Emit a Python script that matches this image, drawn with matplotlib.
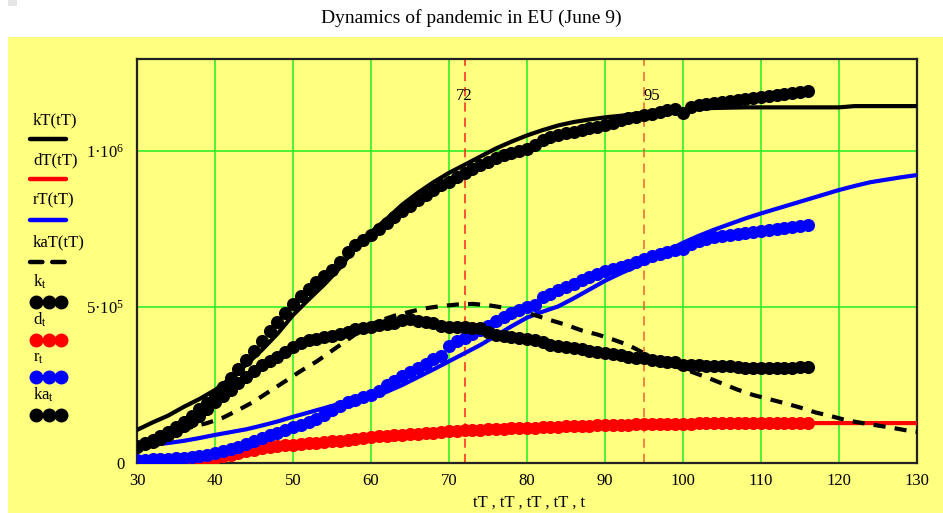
import matplotlib
matplotlib.use("Agg")
import matplotlib.pyplot as plt
from matplotlib.patches import Rectangle
from matplotlib.lines import Line2D

plt.rcParams["font.family"] = ["Liberation Serif", "DejaVu Serif"]
plt.rcParams["mathtext.fontset"] = "custom"
plt.rcParams["mathtext.rm"] = "Liberation Serif"
plt.rcParams["mathtext.it"] = "Liberation Serif:italic"

# ---- observed data (thousands of people), days 30..116 ----
days = list(range(30, 117))

k_obs = [55, 65, 75, 86, 100, 115, 132, 152, 172, 193,
         215, 243, 272, 302, 331, 360, 392, 422, 452, 482,
         510, 535, 558, 580, 600, 620, 645, 676, 700, 715,
         731, 750, 768, 790, 808, 824, 843, 860, 875, 890,
         902, 916, 928, 942, 955, 966, 978, 987, 994, 1000,
         1006, 1018, 1035, 1045, 1052, 1058, 1062, 1068, 1073, 1078,
         1083, 1090, 1098, 1105, 1110, 1115, 1120, 1126, 1130, 1134,
         1121, 1140, 1146, 1150, 1154, 1158, 1161, 1164, 1167, 1170,
         1173, 1176, 1179, 1183, 1186, 1190, 1193]

d_obs = [2, 3, 3, 4, 5, 6, 7, 8, 10, 13,
         17, 22, 27, 32, 37, 42, 47, 51, 54, 57,
         59, 61, 63, 65, 67, 70, 72, 75, 77, 80,
         82, 85, 87, 89, 91, 93, 94, 95, 97, 99,
         101, 103, 105, 106, 107, 108, 109, 110, 111, 111,
         112, 113, 114, 115, 116, 117, 118, 119, 120, 121,
         122, 122, 123, 123, 124, 124, 125, 125, 125, 126,
         126, 126, 127, 127, 127, 127, 127, 127, 127, 127,
         127, 127, 128, 128, 128, 128, 128]

r_obs = [10, 11, 12, 13, 14, 15, 17, 19, 22, 27,
         33, 38, 44, 52, 61, 70, 80, 89, 97, 106,
         114, 122, 130, 140, 155, 170, 184, 195, 203, 210,
         217, 232, 250, 264, 278, 292, 305, 318, 333, 343,
         375, 390, 402, 413, 426, 440, 455, 468, 481, 492,
         500, 508, 533, 543, 555, 565, 575, 587, 596, 605,
         614, 622, 629, 636, 645, 655, 662, 670, 677, 682,
         686, 703, 712, 718, 723, 727, 731, 734, 738, 741,
         744, 747, 750, 753, 757, 760, 763]

ka_obs = [52, 60, 68, 78, 90, 102, 118, 135, 152, 172,
          195, 215, 235, 256, 277, 296, 314, 328, 341, 357,
          373, 385, 394, 398, 403, 408, 415, 421, 428, 433,
          437, 443, 447, 450, 458, 462, 455, 453, 450, 440,
          437, 436, 435, 433, 432, 420, 410, 407, 405, 400,
          398, 394, 388, 378, 374, 371, 368, 365, 360, 355,
          352, 349, 345, 341, 338, 336, 331, 327, 325, 324,
          314, 313, 313, 312, 311, 311, 310, 308, 306, 305,
          303, 303, 304, 305, 306, 307, 309]

# ---- model curves (thousands of people) ----
tT = list(range(30, 131, 2))

kT = [106, 130, 152, 180, 205, 234, 272, 315, 362, 414,
      474, 524, 572, 625, 690, 740, 782, 828, 866, 900,
      930, 956, 982, 1008, 1030, 1050, 1067, 1082, 1093, 1101,
      1108, 1113, 1119, 1126, 1130, 1132, 1136, 1138, 1139, 1140,
      1140, 1140, 1140, 1140, 1140, 1140, 1144, 1144, 1144, 1144,
      1144]

dT = [3, 3, 5, 7, 10, 17, 27, 37, 47, 54,
      59, 63, 67, 72, 77, 82, 87, 91, 94, 97,
      101, 105, 107, 109, 111, 112, 114, 116, 118, 120,
      122, 123, 124, 125, 125, 126, 127, 127, 127, 127,
      127, 127, 128, 128, 128, 128, 128, 128, 128, 128,
      128]

rT = [52, 58, 64, 71, 80, 90, 99, 108, 120, 133,
      148, 162, 176, 190, 200, 210, 228, 250, 275, 300,
      326, 352, 378, 408, 438, 466, 485, 502, 528, 556,
      584, 608, 630, 655, 680, 706, 728, 748, 766, 784,
      800, 815, 830, 845, 860, 875, 888, 900, 908, 916,
      923]

tTa = [33, 35, 37, 39, 41, 43, 45, 47, 49, 51,
       53, 55, 57, 59, 61, 63, 65, 67, 69, 71,
       73, 75, 77, 79, 81, 83, 85, 87, 89, 91,
       93, 95, 97, 99, 101, 103, 105, 107, 109, 111,
       113, 115, 117, 119, 121, 123, 125, 127, 129, 130]
kaT = [88, 102, 115, 128, 145, 170, 197, 230, 262, 295,
       325, 360, 395, 430, 455, 472, 485, 496, 503, 508,
       510, 506, 498, 488, 474, 458, 443, 425, 412, 396,
       378, 352, 330, 310, 293, 275, 255, 235, 218, 205,
       192, 178, 162, 150, 137, 128, 120, 112, 103, 100]

markers_at = [72, 95]

x_ticks = [30, 40, 50, 60, 70, 80, 90, 100, 110, 120, 130]
y_ticks = [0, 500000, 1000000]
y_tick_labels = ["0", "5·10$^{\\mathregular{5}}$", "1·10$^{\\mathregular{6}}$"]

legend_labels = ["kT(tT)", "dT(tT)", "rT(tT)", "kaT(tT)",
                 "k$_{\\mathregular{t}}$", "d$_{\\mathregular{t}}$",
                 "r$_{\\mathregular{t}}$", "ka$_{\\mathregular{t}}$"]

K = 1000.0
YELLOW = "#ffff80"
GRID = "#22ee22"

W, H = 943, 513
fig = plt.figure(figsize=(W / 100, H / 100), dpi=100)
fig.patch.set_facecolor("white")

# background band and corner square
bg = fig.add_axes([0, 0, 1, 1], zorder=-5)
bg.set_xlim(0, W)
bg.set_ylim(H, 0)
bg.axis("off")
bg.add_patch(Rectangle((8, 37), W - 8, H - 37, facecolor=YELLOW, edgecolor="none"))
bg.add_patch(Rectangle((8, 0), 9, 6, facecolor="#e6e6e6", edgecolor="none"))

fig.text(0.5, 1 - 18 / H, "Dynamics of pandemic in EU (June 9)",
         ha="center", va="center", fontsize=14)

left, right, top, bottom = 137, 917, 59, 463
ax = fig.add_axes([left / W, (H - bottom) / H, (right - left) / W, (bottom - top) / H])
ax.set_facecolor(YELLOW)
ax.set_xlim(30, 130)
ax.set_ylim(0, 1.295e6)

ax.set_xticks(x_ticks)
ax.set_yticks(y_ticks)
ax.set_yticklabels(y_tick_labels)
ax.tick_params(length=0, labelsize=12)
ax.tick_params(axis="x", pad=7)
ax.tick_params(axis="y", pad=9)
ax.grid(True, color=GRID, lw=1.1, zorder=0)
ax.set_axisbelow(True)
for s in ax.spines.values():
    s.set_color("#222222")
    s.set_linewidth(1.6)

# markers for key days
ax.axvline(markers_at[0], color="#ff2020", lw=1.1, ls=(0, (6, 4)), zorder=1)
ax.axvline(markers_at[1], color="#f06030", lw=1.1, ls=(0, (6, 4)), zorder=1)
ax.text(markers_at[0], 1.175e6, str(markers_at[0]), ha="center", va="center", fontsize=12)
ax.text(markers_at[1], 1.175e6, str(markers_at[1]), ha="left", va="center", fontsize=12)

lw = 3.0
ax.plot(tT, [v * K for v in kT], color="black", lw=lw, zorder=3, solid_capstyle="round")
ax.plot(tT, [v * K for v in dT], color="#ff0000", lw=lw, zorder=3)
ax.plot(tT, [v * K for v in rT], color="#0000ff", lw=lw, zorder=3)
ax.plot(tTa, [v * K for v in kaT], color="black", lw=lw, ls=(0, (2.9, 2.2)), zorder=3)

ms = 8.4
ax.plot(days, [v * K for v in k_obs], "o", color="black", ms=ms, zorder=4)
ax.plot(days, [v * K for v in d_obs], "o", color="#ff0000", ms=ms, zorder=4)
ax.plot(days, [v * K for v in r_obs], "o", color="#0000ff", ms=ms, zorder=4)
ax.plot(days, [v * K for v in ka_obs], "o", color="black", ms=ms, zorder=4)

fig.text(529 / W, 1 - 503 / H, "tT , tT , tT , tT , t", ha="center", va="center", fontsize=12)

# legend block on the left
lg = fig.add_axes([0, 0, 1, 1], zorder=10)
lg.set_xlim(0, W)
lg.set_ylim(H, 0)
lg.axis("off")
text_y = [120, 160, 200, 242, 282, 320, 358, 395]
sample_y = [139, 179, 220, 262, 302, 340, 377, 415]
styles = [("black", "-"), ("#ff0000", "-"), ("#0000ff", "-"), ("black", "--"),
          ("black", "o"), ("#ff0000", "o"), ("#0000ff", "o"), ("black", "o")]
for lab, ty, sy, (c, st) in zip(legend_labels, text_y, sample_y, styles):
    lg.text(33, ty, lab, ha="left", va="center", fontsize=12)
    if st == "-":
        lg.add_line(Line2D([30, 66], [sy, sy], color=c, lw=3.2, solid_capstyle="round"))
    elif st == "--":
        lg.add_line(Line2D([30, 66], [sy, sy], color=c, lw=3.2, ls=(0, (2.8, 2.2)),
                           dash_capstyle="round"))
    else:
        lg.add_line(Line2D([36, 48.5, 61], [sy, sy, sy], color=c, ls="none",
                           marker="o", ms=9))

fig.savefig("out.png", dpi=100, facecolor="white")
